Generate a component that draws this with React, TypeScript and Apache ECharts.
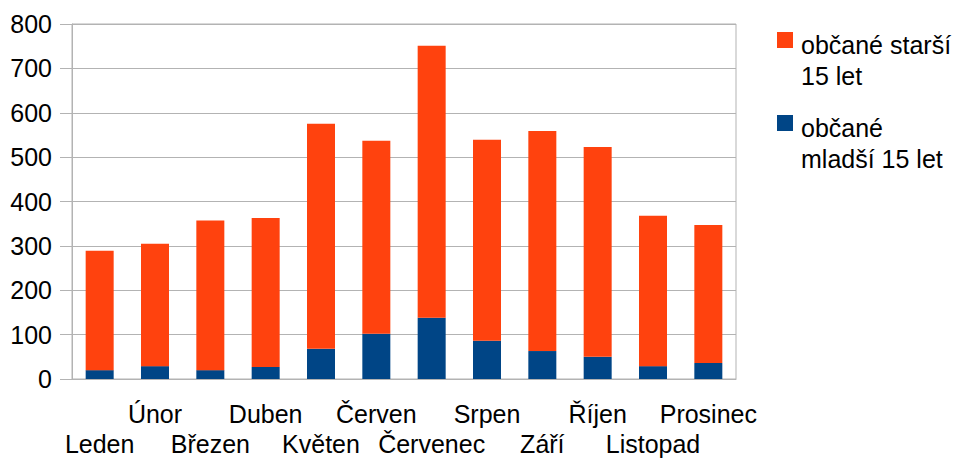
import React, { useEffect, useRef } from "react";
import * as echarts from "echarts";

const months = ["Leden", "Únor", "Březen", "Duben", "Květen", "Červen", "Červenec", "Srpen", "Září", "Říjen", "Listopad", "Prosinec"];
const younger = [20, 29, 20, 27, 68, 102, 138, 86, 63, 50, 29, 36];
const older = [269, 276, 337, 336, 507, 435, 613, 453, 496, 473, 339, 311];
const yTicks = { min: 0, max: 800, interval: 100 };
const olderName = "občané starší 15 let";
const youngerName = "občané mladší 15 let";

export default function App() {
  const ref = useRef<HTMLDivElement>(null);
  useEffect(() => {
    const chart = echarts.init(ref.current!, undefined, { renderer: "svg" });
    const font = "'Liberation Sans', Arial, sans-serif";
    const icon = "path://M0,0h0.01v0.01h-0.01z M0,3h16v16h-16z M0,62h0.01v0.01h-0.01z";
    chart.setOption({
      animation: false,
      textStyle: { fontFamily: font },
      grid: { left: 72, right: 224, top: 24, bottom: 80, show: true, borderColor: "#b3b3b3", borderWidth: 1 },
      legend: {
        orient: "vertical",
        left: 777,
        top: 29,
        padding: 0,
        itemWidth: 16,
        itemHeight: 62,
        itemGap: 21,
        icon,
        data: [olderName, youngerName],
        formatter: (n: string) => (n === olderName ? "občané starší\n15 let" : "občané\nmladší 15 let"),
        textStyle: { fontSize: 25, lineHeight: 31, color: "#000", fontFamily: font, padding: [0, 0, 0, 3] },
      },
      xAxis: {
        type: "category",
        data: months,
        axisLine: { lineStyle: { color: "#b3b3b3" } },
        axisTick: { length: 11, lineStyle: { color: "#b3b3b3" } },
        axisLabel: {
          interval: 0,
          fontSize: 25,
          lineHeight: 30,
          color: "#000",
          margin: 20,
          verticalAlign: "top",
          formatter: (v: string, i: number) => (i % 2 === 0 ? "\n" + v : v),
        },
      },
      yAxis: {
        type: "value",
        min: yTicks.min,
        max: yTicks.max,
        interval: yTicks.interval,
        axisLine: { show: true, lineStyle: { color: "#b3b3b3" } },
        axisTick: { show: true, length: 12, lineStyle: { color: "#b3b3b3" } },
        splitLine: { lineStyle: { color: "#b3b3b3" } },
        axisLabel: { fontSize: 25, color: "#000", margin: 20 },
      },
      series: [
        { name: youngerName, type: "bar", stack: "a", data: younger, barWidth: 28, itemStyle: { color: "#004586" } },
        { name: olderName, type: "bar", stack: "a", data: older, barWidth: 28, itemStyle: { color: "#ff420e" } },
      ],
    });
    return () => chart.dispose();
  }, []);
  return <div ref={ref} style={{ width: 960, height: 459, position: "absolute", left: 0, top: 0 }} />;
}
